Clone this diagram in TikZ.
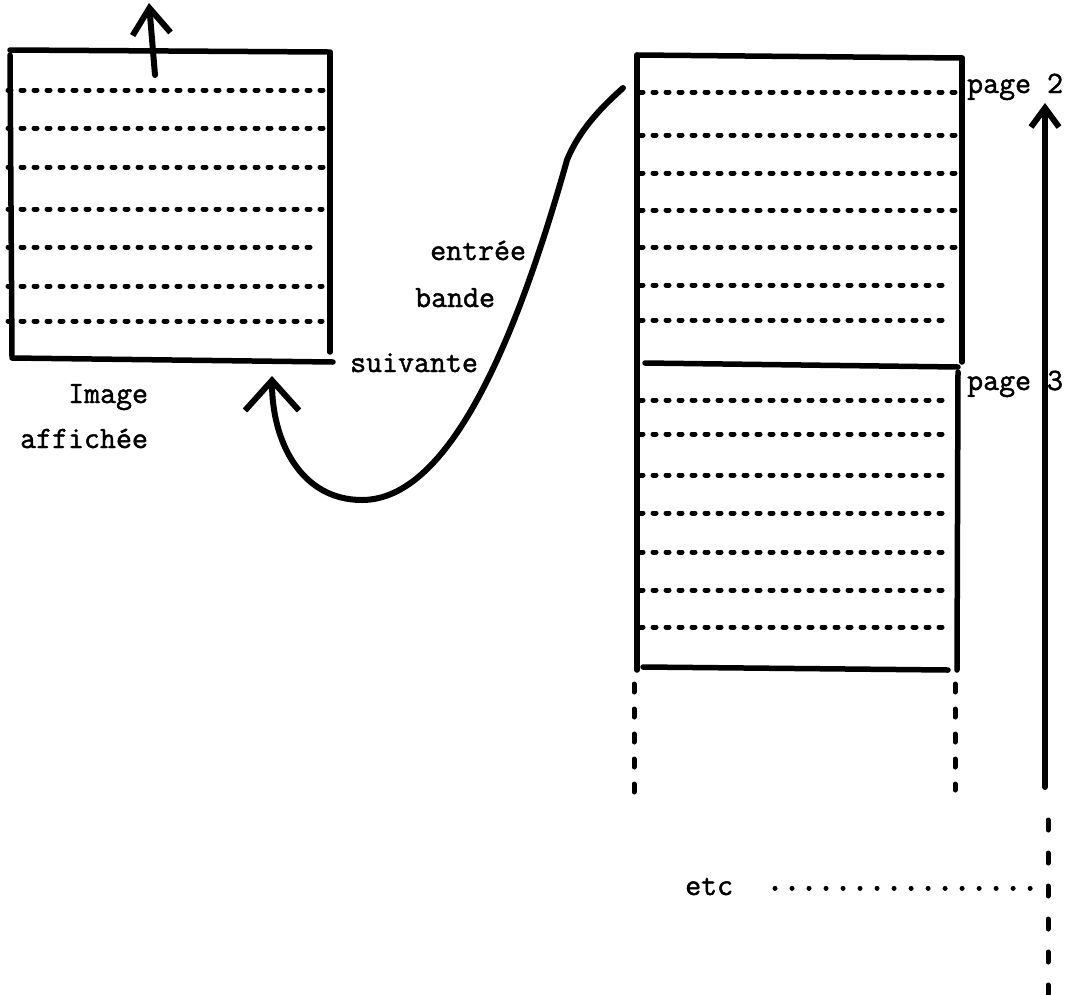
\documentclass[tikz,border=0pt]{standalone}
\usepackage{fontspec}
\newfontfamily\typewr{Latin Modern Mono}[FakeBold=1.5]
\usetikzlibrary{arrows.meta}
\tikzset{
  px/.style={x=1pt,y=-1pt},
  boxline/.style={line width=5.5pt,line cap=round},
  dotline/.style={line width=5pt,line cap=round,dash pattern=on 3pt off 10pt},
  vdash/.style={line width=5pt,line cap=round,dash pattern=on 8pt off 17pt},
  bigdots/.style={line width=5pt,line cap=round,dash pattern=on 0.01pt off 17pt},
  arrowline/.style={line width=6pt,line cap=round},
  lbl/.style={font=\fontsize{31}{36}\selectfont\typewr,inner sep=0pt,anchor=base west},
}
\begin{document}
\begin{tikzpicture}[px]
\useasboundingbox (0,0) rectangle (1066,994);
% ---------- left box (image affichee)
\draw[boxline] (10,50) -- (328,52);
\draw[boxline] (10,55) -- (12,356);
\draw[boxline] (330,52) -- (330,352);
\draw[boxline] (12,358) -- (333,362);
\foreach \y/\e in {90/328,128/326,167/326,209/322,247/320,286/322,321/322}
  \draw[dotline] (8,\y) -- (\e,\y);
% top arrow
\coordinate (topA) at (155,75);
\coordinate (topB) at (149,3);
\draw[arrowline,-{Straight Barb[length=26pt,width=38pt]}] (topA) -- (topB);
% ---------- right column of pages
\draw[boxline] (637,55) -- (962,58);
\draw[boxline] (962,58) -- (962,362);
\draw[boxline] (637,55) -- (637,670);
\draw[boxline] (645,363) -- (958,367);
\draw[boxline] (958,372) -- (957,670);
\draw[boxline] (643,667) -- (948,670);
\foreach \y/\e in {92/958,135/956,173/956,210/958,247/956,285/944,320/950}
  \draw[dotline] (640,\y) -- (\e,\y);
\foreach \y/\e in {400/950,434/950,475/950,513/946,552/950,590/948,627/944}
  \draw[dotline] (640,\y) -- (\e,\y);
\draw[vdash] (634,684) -- (634,806);
\draw[vdash] (955,684) -- (955,790);
% long upward arrow
\coordinate (lgA) at (1045,787);
\coordinate (lgB) at (1045,103);
\draw[arrowline,-{Straight Barb[length=19pt,width=28pt]}] (lgA) -- (lgB);
\draw[vdash,dash pattern=on 10pt off 23pt] (1048,820) -- (1048,994);
% ---------- labels
\node[lbl] (p2) at (967,93) {page 2};
\node[lbl] (p3) at (967,390) {page 3};
\node[lbl] (entree) at (430,260) {entrée};
\node[lbl] (bande) at (415,307) {bande};
\node[lbl] (suiv) at (350,372) {suivante};
\node[lbl] (img) at (68,403) {Image};
\node[lbl] (aff) at (20,448) {affichée};
\node[lbl] (etc) at (685,895) {etc};
\coordinate (etcEnd) at (1046,888);
\draw[bigdots] (775,888) -- (etcEnd);
% ---------- curved arrow: next band input
\coordinate (cS) at (623,88);
\coordinate (cE) at (272,376);
\draw[arrowline,-{Straight Barb[length=30pt,width=54pt]}]
  (cS) .. controls (605,104) and (580,128) .. (567,160)
       .. controls (517,338) and (450,500) .. (362,500)
       .. controls (300,500) and (272,440) .. (cE);
\end{tikzpicture}
\end{document}
